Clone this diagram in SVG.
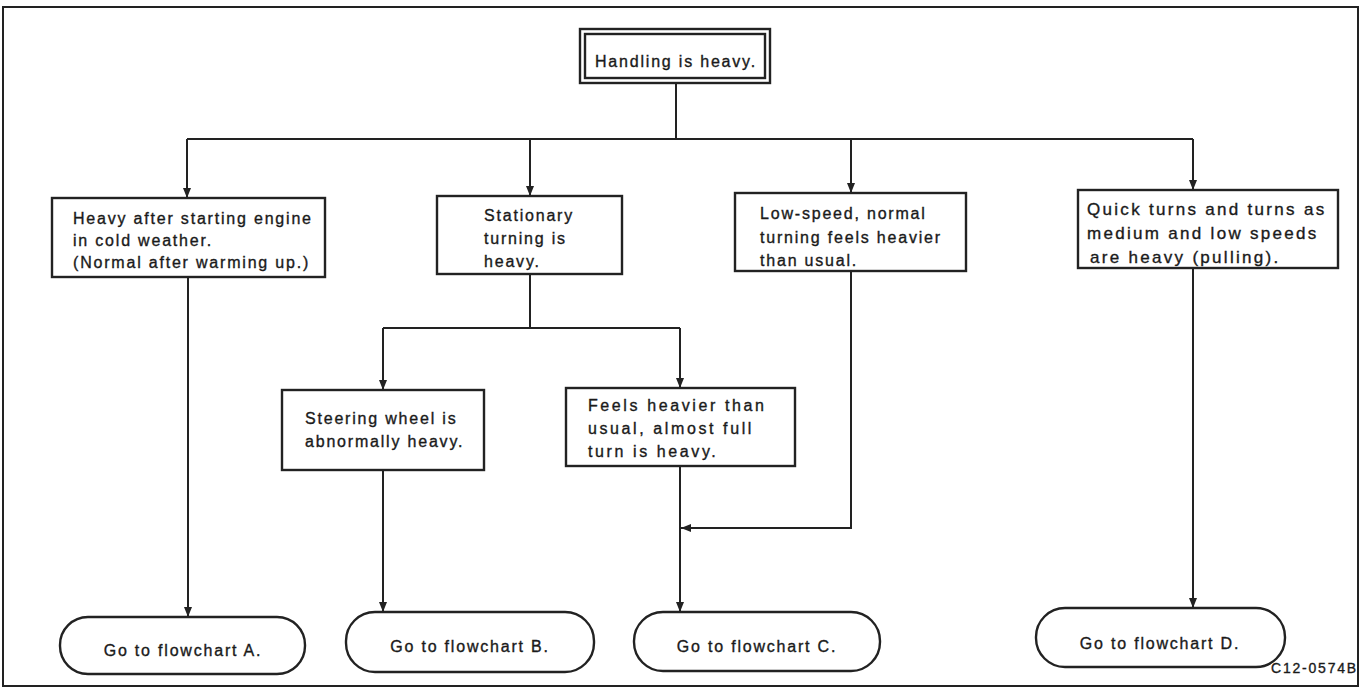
<svg xmlns="http://www.w3.org/2000/svg" width="1361" height="691" viewBox="0 0 1361 691">
<style>
.box{fill:#fff;stroke:#222;stroke-width:2.4}
.ln{fill:none;stroke:#222;stroke-width:2}
.t{font-family:"Liberation Sans",Arial,sans-serif;font-size:16px;letter-spacing:1.8px;fill:#1a1a1a;stroke:#1a1a1a;stroke-width:0.35}
.c{text-anchor:middle}
.q{font-size:17px;letter-spacing:2.3px}
</style>
<defs>
<marker id="ar" markerUnits="userSpaceOnUse" markerWidth="10" markerHeight="8" refX="10" refY="4" orient="auto">
<path d="M0,0 L10,4 L0,8 z" fill="#222"/>
</marker>
</defs>
<rect x="0" y="0" width="1361" height="691" fill="#fff"/>
<rect x="3" y="7" width="1355" height="679" fill="none" stroke="#222" stroke-width="2"/>
<g id="connectors">
<path class="ln" d="M676,83 V139"/>
<path class="ln" d="M187,139 H1193"/>
<path class="ln" d="M187,139 V198" marker-end="url(#ar)"/>
<path class="ln" d="M530,139 V196" marker-end="url(#ar)"/>
<path class="ln" d="M851,139 V193" marker-end="url(#ar)"/>
<path class="ln" d="M1193,139 V190" marker-end="url(#ar)"/>
<path class="ln" d="M530,274 V328"/>
<path class="ln" d="M383,328 H680"/>
<path class="ln" d="M383,328 V390" marker-end="url(#ar)"/>
<path class="ln" d="M680,328 V388" marker-end="url(#ar)"/>
<path class="ln" d="M188,277 V617" marker-end="url(#ar)"/>
<path class="ln" d="M383,470 V612" marker-end="url(#ar)"/>
<path class="ln" d="M680,466 V612" marker-end="url(#ar)"/>
<path class="ln" d="M851,271 V528 H681" marker-end="url(#ar)"/>
<path class="ln" d="M1193,268 V608" marker-end="url(#ar)"/>
</g>
<g id="n-start">
<rect class="box" x="580" y="29" width="190" height="54"/>
<rect class="box" x="585" y="34" width="180" height="44" stroke-width="1.5"/>
<text class="t c" x="676" y="67">Handling is heavy.</text>
</g>
<g id="n-cold">
<rect class="box" x="52" y="198" width="273" height="79"/>
<text class="t" x="73" y="224">Heavy after starting engine</text>
<text class="t" x="73" y="246">in cold weather.</text>
<text class="t" x="73" y="268">(Normal after warming up.)</text>
</g>
<g id="n-stationary">
<rect class="box" x="437" y="196" width="185" height="78"/>
<text class="t" x="484" y="221">Stationary</text>
<text class="t" x="484" y="244">turning is</text>
<text class="t" x="484" y="267">heavy.</text>
</g>
<g id="n-lowspeed">
<rect class="box" x="735" y="193" width="231" height="78"/>
<text class="t" x="760" y="219">Low-speed, normal</text>
<text class="t" x="760" y="243">turning feels heavier</text>
<text class="t" x="760" y="266">than usual.</text>
</g>
<g id="n-quick">
<rect class="box" x="1078" y="190" width="260" height="78"/>
<text class="t q" x="1087" y="215">Quick turns and turns as</text>
<text class="t q" x="1087" y="239">medium and low speeds</text>
<text class="t q" x="1090" y="263">are heavy (pulling).</text>
</g>
<g id="n-steering">
<rect class="box" x="282" y="390" width="202" height="80"/>
<text class="t" x="305" y="424">Steering wheel is</text>
<text class="t" x="305" y="447">abnormally heavy.</text>
</g>
<g id="n-feels">
<rect class="box" x="566" y="388" width="229" height="78"/>
<text class="t" x="588" y="411" style="letter-spacing:2.6px">Feels heavier than</text>
<text class="t" x="588" y="434" style="letter-spacing:2.6px">usual, almost full</text>
<text class="t" x="588" y="457" style="letter-spacing:2.6px">turn is heavy.</text>
</g>
<g id="n-goA">
<rect class="box" x="60" y="617" width="245" height="57" rx="28"/>
<text class="t c" x="183" y="656">Go to flowchart A.</text>
</g>
<g id="n-goB">
<rect class="box" x="346" y="612" width="248" height="60" rx="29"/>
<text class="t c" x="470" y="652">Go to flowchart B.</text>
</g>
<g id="n-goC">
<rect class="box" x="634" y="612" width="246" height="59" rx="29"/>
<text class="t c" x="757" y="652">Go to flowchart C.</text>
</g>
<g id="n-goD">
<rect class="box" x="1036" y="608" width="249" height="59" rx="29"/>
<text class="t c" x="1160" y="649">Go to flowchart D.</text>
</g>
<text class="t" x="1358" y="673" style="font-size:14px;text-anchor:end">C12-0574B</text>
</svg>
